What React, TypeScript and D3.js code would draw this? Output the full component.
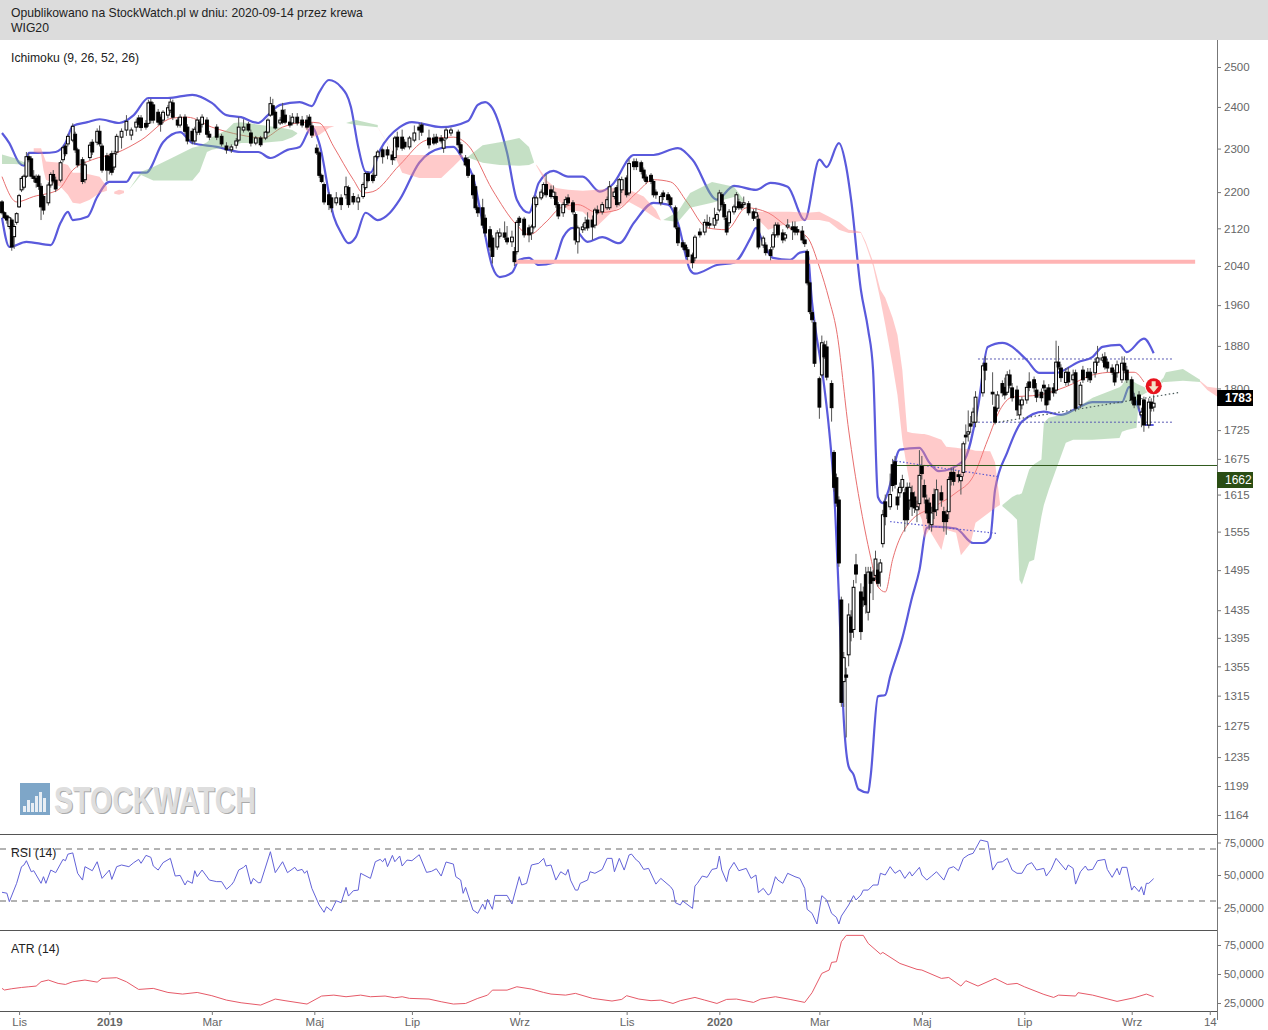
// WIG20 daily chart: candles, Bollinger-style bands, Ichimoku cloud, RSI and ATR panels
import React, { useRef, useEffect } from 'react';
import * as d3 from 'd3';

type Candle = [number, number, number, number, number]; // day, open, close, high, low
type Point = [number, number];                          // day, value
type CloudPoint = [number, number, number];             // day, top, bottom

const PUBLISHED = 'Opublikowano na StockWatch.pl w dniu: 2020-09-14 przez krewa';
const SYMBOL = 'WIG20';

const priceTicks = [2500, 2400, 2300, 2200, 2120, 2040, 1960, 1880, 1800, 1725, 1675, 1615, 1555, 1495, 1435, 1395, 1355, 1315, 1275, 1235, 1199, 1164];
const indicatorTicks = [25, 50, 75];
const monthDays = [7, 44, 86, 128, 168, 212, 256, 294, 335, 377, 419, 463, 495];
const monthLabels = ['Lis', '2019', 'Mar', 'Maj', 'Lip', 'Wrz', 'Lis', '2020', 'Mar', 'Maj', 'Lip', 'Wrz', '14'];

const candles2018: Candle[] = [
  [0,2178,2154,2182,2150],[1,2154,2143,2157,2140],[2,2147,2138,2150,2130],[3,2124,2143,2146,2118],[4,2138,2080,2142,2072],
  [5,2102,2124,2130,2076],[6,2133,2152,2155,2128],[7,2167,2192,2196,2165],[8,2205,2231,2236,2200],[9,2211,2236,2240,2206],
  [10,2236,2281,2292,2232],[11,2281,2274,2290,2268],[12,2276,2236,2282,2230],[13,2236,2231,2250,2222],[14,2231,2222,2240,2210],
  [15,2236,2213,2240,2205],[16,2213,2167,2220,2138],[17,2190,2160,2195,2150],[19,2176,2216,2222,2170],[20,2216,2240,2245,2210],
  [21,2240,2225,2250,2220],[22,2227,2207,2235,2200],[24,2227,2267,2272,2222],[25,2274,2302,2306,2268],[26,2306,2288,2312,2282],
  [27,2311,2329,2335,2305],[29,2320,2353,2360,2315],[30,2334,2297,2340,2290],[31,2297,2262,2302,2256],[33,2274,2224,2280,2218],
  [34,2228,2262,2270,2220],[36,2279,2308,2315,2272],[37,2315,2292,2322,2285],[39,2315,2341,2348,2308],[40,2341,2311,2355,2305],
  [41,2306,2250,2312,2244],[43,2283,2250,2290,2225],[44,2281,2250,2288,2240],[45,2288,2245,2295,2238],[46,2257,2288,2295,2250],
  [47,2292,2329,2335,2285],[49,2327,2341,2348,2300],[51,2344,2365,2380,2330],[53,2332,2344,2350,2320],[55,2351,2363,2370,2340],
];

const candles2019a: Candle[] = [
  [56,2373,2358,2380,2350],[57,2373,2350,2380,2342],[59,2360,2351,2368,2345],[60,2360,2410,2418,2352],[61,2412,2368,2420,2360],
  [62,2405,2368,2412,2360],[64,2387,2363,2395,2355],[65,2375,2358,2382,2340],[66,2368,2387,2392,2360],[68,2380,2398,2405,2372],
  [69,2392,2412,2420,2385],[70,2410,2375,2418,2368],[72,2368,2356,2375,2350],[73,2356,2375,2382,2350],[75,2375,2341,2382,2335],
  [76,2351,2318,2358,2310],[78,2341,2318,2348,2310],[79,2318,2346,2352,2310],[80,2339,2368,2375,2332],[81,2363,2339,2370,2332],
  [82,2358,2375,2382,2350],[84,2368,2334,2375,2326],[85,2334,2327,2342,2320],[88,2351,2327,2358,2320],[90,2329,2311,2335,2305],
  [92,2306,2297,2315,2288],[94,2297,2304,2310,2290],[96,2308,2318,2325,2300],[97,2320,2351,2375,2315],[99,2344,2351,2370,2338],
  [101,2358,2344,2364,2340],[102,2337,2313,2345,2305],[104,2313,2325,2330,2308],[106,2325,2309,2330,2304],[108,2325,2339,2342,2320],
  [109,2339,2368,2372,2335],[110,2380,2408,2425,2376],[111,2403,2382,2420,2378],[112,2387,2349,2392,2345],[114,2361,2368,2375,2356],
  [115,2392,2363,2410,2358],[116,2380,2363,2395,2358],[118,2363,2356,2380,2350],[119,2361,2375,2385,2355],[121,2375,2361,2385,2355],
  [123,2368,2356,2378,2350],[125,2368,2351,2380,2345],[126,2375,2356,2382,2350],[127,2354,2332,2362,2325],[129,2301,2290,2310,2285],
  [130,2290,2238,2295,2232],[131,2238,2224,2242,2220],[132,2217,2178,2222,2172],[134,2194,2172,2200,2160],[135,2187,2165,2195,2155],
  [137,2176,2187,2200,2170],[139,2187,2172,2195,2160],[141,2194,2212,2235,2185],[142,2210,2172,2215,2165],[144,2190,2178,2198,2172],
  [146,2178,2187,2195,2160],[148,2190,2217,2222,2185],[149,2210,2242,2246,2205],[150,2242,2226,2247,2222],[152,2238,2226,2244,2220],
  [153,2238,2281,2285,2232],[154,2281,2292,2297,2276],[156,2297,2281,2302,2265],[158,2297,2285,2305,2275],[160,2285,2274,2295,2262],
  [161,2279,2325,2330,2272],[162,2327,2304,2340,2296],[164,2327,2301,2345,2295],[165,2315,2304,2322,2298],[167,2304,2325,2330,2298],
  [169,2320,2337,2355,2315],[171,2351,2344,2360,2320],[172,2356,2339,2362,2330],[175,2325,2309,2345,2300],[177,2325,2313,2335,2308],
  [178,2327,2315,2335,2310],[180,2325,2318,2332,2312],[181,2301,2320,2325,2290],[182,2325,2344,2350,2320],[184,2337,2344,2350,2330],
  [187,2339,2309,2345,2302],[188,2309,2290,2315,2285],[190,2278,2262,2285,2258],[191,2274,2238,2280,2232],[193,2238,2194,2242,2185],
];

const candles2019b: Candle[] = [
  [194,2212,2165,2218,2160],[195,2165,2154,2170,2145],[197,2165,2127,2185,2120],[198,2142,2110,2150,2102],[200,2117,2080,2125,2072],
  [201,2099,2060,2105,2045],[203,2080,2110,2116,2074],[204,2103,2110,2120,2098],[206,2110,2101,2135,2095],[207,2099,2091,2125,2085],
  [209,2091,2101,2115,2080],[210,2070,2049,2080,2040],[211,2070,2133,2138,2064],[212,2142,2133,2147,2125],[214,2140,2106,2145,2100],
  [216,2121,2106,2128,2090],[217,2110,2123,2128,2095],[218,2123,2187,2192,2118],[219,2172,2187,2192,2166],[221,2187,2200,2206,2182],
  [222,2198,2217,2222,2190],[223,2217,2194,2240,2188],[225,2205,2190,2215,2185],[226,2190,2200,2215,2185],[227,2190,2172,2200,2165],
  [228,2172,2147,2178,2140],[230,2154,2172,2178,2145],[231,2172,2183,2190,2165],[232,2187,2176,2195,2170],[234,2176,2156,2182,2150],
  [235,2150,2095,2155,2085],[236,2091,2121,2126,2066],[238,2117,2123,2130,2110],[239,2121,2132,2145,2115],[240,2138,2121,2155,2115],
  [242,2138,2123,2148,2095],[243,2127,2160,2165,2120],[244,2160,2154,2170,2150],[246,2156,2172,2178,2150],[248,2165,2183,2190,2160],
  [249,2165,2212,2225,2160],[251,2190,2200,2210,2184],[252,2210,2172,2216,2166],[253,2176,2228,2232,2170],[254,2205,2228,2235,2198],
  [256,2232,2194,2238,2188],[257,2198,2265,2275,2192],[259,2269,2258,2277,2250],[260,2269,2258,2277,2250],[262,2267,2247,2272,2240],
  [263,2250,2232,2256,2226],[264,2234,2224,2240,2218],[266,2238,2224,2243,2218],[267,2224,2194,2230,2188],[268,2200,2194,2206,2185],
  [270,2176,2190,2195,2170],[271,2198,2190,2204,2182],[273,2194,2183,2200,2176],[274,2187,2172,2192,2165],[276,2165,2123,2170,2118],
  [277,2121,2089,2126,2082],[279,2089,2080,2095,2074],[280,2084,2074,2090,2068],[281,2074,2060,2080,2052],[283,2063,2047,2068,2035],
  [284,2057,2101,2106,2050],[286,2112,2106,2120,2100],[288,2112,2133,2140,2105],[289,2133,2127,2150,2122],[290,2130,2127,2145,2120],
  [292,2127,2142,2165,2120],[293,2138,2150,2155,2130],[294,2160,2198,2205,2155],[295,2194,2172,2200,2166],[296,2172,2145,2178,2138],
];

const candles2020a: Candle[] = [
  [297,2142,2112,2148,2105],[298,2132,2156,2162,2125],[300,2156,2167,2172,2150],[301,2167,2194,2200,2160],[302,2178,2165,2185,2160],
  [303,2172,2165,2178,2160],[304,2172,2176,2190,2165],[306,2174,2154,2180,2148],[308,2156,2142,2162,2136],[309,2145,2154,2165,2140],
  [310,2140,2080,2150,2075],[312,2084,2099,2104,2078],[313,2084,2068,2090,2062],[315,2074,2062,2080,2052],[316,2080,2106,2112,2074],
  [317,2106,2127,2133,2100],[318,2127,2106,2133,2100],[320,2110,2095,2118,2088],[321,2099,2106,2112,2092],[322,2123,2127,2140,2118],
  [324,2123,2117,2135,2095],[325,2123,2112,2135,2105],[326,2117,2112,2125,2105],[328,2114,2095,2125,2088],[329,2095,2087,2105,2080],
  [330,2070,2005,2075,2000],[331,2005,1947,2010,1942],[332,1945,1931,1950,1925],[333,1925,1847,1930,1840],[335,1818,1766,1822,1745],
  [336,1825,1886,1900,1820],[337,1882,1859,1890,1855],[338,1878,1821,1890,1815],[340,1809,1765,1815,1740],[341,1686,1627,1690,1620],
  [342,1643,1601,1650,1595],[343,1606,1506,1612,1500],[344,1450,1306,1455,1300],[345,1334,1367,1375,1300],[346,1343,1340,1353,1260],
  [347,1371,1428,1445,1355],[348,1425,1403,1435,1390],[349,1407,1469,1480,1395],[350,1503,1489,1520,1475],[352,1462,1404,1475,1392],
  [353,1454,1450,1470,1440],[354,1488,1443,1500,1430],[355,1432,1492,1500,1420],[356,1492,1475,1500,1460],[357,1483,1479,1495,1450],
  [358,1487,1512,1525,1480],[359,1495,1475,1505,1470],[360,1492,1506,1512,1470],[361,1536,1582,1590,1530],[362,1603,1579,1615,1565],
  [364,1595,1615,1650,1590],[365,1665,1630,1675,1620],[366,1670,1632,1680,1625],[367,1611,1598,1625,1590],[368,1618,1627,1635,1610],
  [369,1627,1640,1648,1620],[370,1618,1574,1625,1555],[371,1627,1574,1635,1565],[372,1606,1627,1635,1590],[373,1618,1595,1630,1580],
  [374,1611,1593,1620,1585],[375,1590,1595,1605,1570],[376,1600,1647,1690,1590],[377,1662,1650,1680,1640],[378,1630,1611,1640,1600],
];

const candles2020b: Candle[] = [
  [379,1606,1585,1615,1575],[380,1601,1569,1610,1558],[381,1566,1585,1595,1555],[382,1615,1587,1625,1575],[383,1590,1623,1640,1580],
  [385,1618,1606,1630,1595],[386,1587,1571,1595,1555],[387,1582,1571,1590,1550],[388,1587,1640,1645,1575],[389,1652,1640,1660,1630],
  [390,1652,1637,1660,1630],[392,1648,1645,1655,1635],[393,1638,1645,1650,1615],[394,1652,1701,1705,1645],[395,1716,1713,1735,1700],
  [396,1718,1722,1760,1705],[397,1736,1732,1750,1720],[398,1739,1757,1765,1735],[399,1739,1784,1795,1730],[402,1792,1842,1848,1785],
  [403,1847,1834,1860,1815],[406,1793,1790,1830,1770],[407,1766,1739,1790,1735],[408,1764,1788,1795,1758],[410,1809,1792,1815,1785],
  [411,1802,1788,1820,1780],[412,1793,1825,1832,1788],[413,1825,1806,1835,1800],[414,1801,1783,1810,1776],[416,1797,1761,1805,1750],
  [417,1752,1770,1780,1745],[418,1770,1779,1785,1762],[420,1779,1802,1810,1772],[421,1812,1802,1830,1795],[423,1816,1801,1822,1793],
  [424,1797,1784,1810,1775],[426,1793,1783,1800,1776],[427,1806,1801,1815,1795],[428,1797,1770,1802,1760],[429,1801,1779,1808,1770],
  [431,1801,1792,1810,1785],[432,1797,1849,1890,1790],[433,1849,1840,1880,1835],[434,1838,1820,1845,1812],[436,1811,1830,1838,1805],
  [437,1830,1812,1840,1805],[439,1816,1825,1835,1810],[440,1829,1764,1835,1758],[442,1770,1806,1812,1764],[443,1834,1816,1842,1810],
  [445,1830,1820,1838,1812],[446,1830,1816,1838,1810],[448,1829,1849,1855,1820],[449,1849,1857,1880,1842],[451,1853,1857,1865,1848],
  [452,1859,1840,1868,1835],[453,1849,1838,1855,1830],[455,1838,1830,1845,1825],[456,1829,1812,1835,1805],[457,1829,1844,1852,1820],
  [459,1816,1847,1860,1810],[460,1847,1834,1860,1828],[461,1834,1816,1842,1810],[463,1816,1779,1822,1772],[464,1784,1770,1792,1764],
  [466,1788,1770,1795,1762],[467,1752,1757,1765,1730],[468,1779,1734,1785,1722],[470,1734,1775,1782,1728],[471,1775,1764,1782,1758],
  [472,1766,1773,1790,1758],
];

const upperBand: Point[] = [
  [0,2337],[3,2313],[7,2267],[9,2260],[11,2290],[17,2290],[22,2292],[26,2313],[29,2354],[35,2363],[40,2370],[48,2361],[54,2380],[60,2422],[68,2422],
  [78,2430],[86,2410],[92,2380],[98,2375],[105,2361],[109,2380],[114,2405],[122,2412],[127,2402],[130,2436],[134,2467],[139,2449],[143,2400],[146,2304],
  [149,2246],[151,2244],[155,2297],[163,2351],[168,2363],[180,2351],[191,2366],[195,2405],[198,2412],[201,2397],[207,2290],[211,2183],[216,2154],[220,2221],
  [226,2248],[232,2235],[238,2235],[245,2201],[250,2216],[259,2285],[267,2285],[277,2301],[283,2274],[293,2183],[300,2214],[309,2205],[315,2221],[322,2212],
  [329,2138],[335,2274],[338,2257],[343,2313],[346,2257],[348,2183],[352,1991],[355,1911],[357,1834],[359,1611],[361,1601],[363,1618],[368,1691],[376,1694],
  [380,1669],[384,1654],[394,1671],[400,1766],[404,1878],[410,1886],[420,1853],[425,1829],[432,1829],[441,1849],[447,1859],[451,1878],[458,1882],[461,1868],[468,1894],[472,1866],
];

const lowerBand: Point[] = [
  [0,2143],[3,2080],[10,2091],[20,2084],[24,2132],[27,2156],[29,2138],[35,2145],[39,2189],[44,2223],[51,2223],[54,2244],[59,2244],[66,2315],[73,2339],
  [78,2313],[88,2304],[98,2292],[105,2292],[110,2278],[117,2297],[122,2304],[127,2351],[130,2313],[136,2145],[139,2110],[142,2088],[145,2101],[149,2154],
  [154,2138],[159,2154],[163,2183],[171,2267],[180,2301],[185,2304],[189,2274],[193,2235],[197,2132],[201,2038],[204,2017],[209,2026],[212,2053],[216,2057],
  [220,2042],[226,2047],[230,2101],[234,2121],[240,2091],[246,2101],[253,2088],[259,2132],[267,2176],[273,2172],[277,2132],[282,2032],[284,2024],[293,2042],
  [300,2047],[307,2101],[309,2121],[312,2088],[316,2057],[323,2053],[327,2068],[330,2070],[332,1965],[337,1803],[339,1725],[341,1623],[343,1455],[345,1283],
  [347,1223],[349,1213],[351,1195],[355,1191],[356,1211],[359,1314],[362,1316],[364,1341],[369,1395],[373,1454],[376,1495],[379,1561],[382,1563],[391,1560],
  [398,1537],[402,1537],[405,1545],[407,1623],[412,1686],[418,1740],[427,1758],[434,1752],[441,1765],[447,1775],[459,1775],[462,1803],[465,1773],[469,1734],[472,1734],
];

const middleLine: Point[] = [
  [0,2235],[6,2178],[13,2190],[23,2205],[29,2250],[37,2274],[47,2290],[57,2320],[70,2373],[76,2375],[86,2351],[98,2332],[107,2325],[115,2351],[125,2363],
  [130,2361],[136,2304],[144,2228],[148,2198],[152,2201],[163,2262],[174,2320],[185,2327],[191,2308],[201,2205],[211,2127],[216,2106],[223,2134],[229,2165],
  [236,2172],[244,2154],[252,2160],[260,2198],[267,2228],[274,2223],[281,2176],[289,2121],[297,2117],[305,2165],[314,2154],[322,2123],[330,2101],[335,2038],
  [339,1971],[342,1911],[347,1725],[356,1515],[359,1470],[362,1462],[365,1511],[372,1570],[382,1595],[391,1618],[398,1645],[404,1708],[409,1761],[414,1784],
  [425,1788],[436,1803],[447,1825],[455,1830],[464,1830],[468,1812],
];

const greenClouds: CloudPoint[][] = [
  [[0,2286,2264],[5,2278,2264],[10,2266,2262]],
  [[52,2205,2205],[57,2246,2239],[62,2257,2226],[70,2279,2226],[78,2302,2226],[81,2306,2246],[84,2315,2292],[86,2327,2297],[92,2344,2304],[95,2361,2308],[98,2363,2313],[106,2356,2313],[115,2349,2318],[119,2344,2327],[121,2337,2335]],
  [[141,2361,2361],[145,2368,2356],[149,2363,2354],[154,2356,2351]],
  [[191,2281,2279],[197,2308,2267],[204,2315,2262],[212,2325,2260],[216,2304,2262],[218,2269,2267]],
  [[271,2138,2138],[277,2156,2134],[282,2198,2165],[291,2223,2176],[300,2212,2189],[304,2183,2176]],
  [[410,1598,1596],[414,1611,1582],[416,1615,1574],[417,1615,1480],[418,1617,1473],[421,1657,1508],[423,1666,1511],[426,1674,1579],[427,1738,1598],[429,1747,1623],[432,1750,1657],[436,1756,1703],[439,1761,1708],[447,1783,1708],[458,1802,1711],[459,1806,1722],[461,1820,1725],[465,1809,1729],[466,1807,1785],[469,1801,1792],[473,1806,1801],[476,1820,1812],[477,1830,1812],[484,1836,1814],[491,1816,1812]],
];

const redClouds: CloudPoint[][] = [
  [[13,2301,2292],[16,2301,2288],[17,2285,2250],[18,2270,2228],[24,2267,2212],[27,2262,2194],[29,2244,2176],[32,2244,2174],[36,2240,2183],[40,2235,2198],[43,2212,2203]],
  [[46,2201,2196],[48,2205,2194],[50,2203,2198]],
  [[124,2351,2349],[127,2354,2327],[130,2354,2332],[134,2354,2349],[136,2354,2353]],
  [[154,2351,2350],[161,2285,2283],[164,2285,2244],[171,2285,2232],[180,2285,2232],[185,2285,2258],[189,2285,2281]],
  [[219,2263,2260],[222,2239,2230],[223,2228,2212],[227,2209,2187],[232,2205,2160],[238,2203,2156],[244,2205,2125],[250,2209,2156],[257,2205,2178],[263,2190,2160],[268,2160,2142],[270,2138,2137]],
  [[308,2156,2150],[314,2156,2117],[323,2156,2132],[330,2154,2138],[335,2156,2138],[339,2145,2134],[343,2134,2117],[347,2117,2110],[350,2115,2110],[352,2112,2110],[354,2091,2085],[357,2049,2040],[360,1991,1971],[362,1975,1921],[365,1935,1843],[367,1901,1788],[369,1834,1708],[371,1722,1657],[373,1720,1611],[377,1718,1574],[378,1718,1545],[380,1716,1558],[385,1708,1526],[387,1696,1558],[391,1694,1553],[393,1693,1518],[397,1691,1537],[399,1689,1569],[405,1688,1587],[407,1669,1593],[409,1601,1598]],
  [[491,1814,1812],[494,1803,1797],[498,1801,1785]],
];

const dashedLevels: [number, number, number, number][] = [
  [400, 1855, 480, 1855],
  [400, 1739, 480, 1739],
];
const dottedTrends: [number, number, number, number][] = [
  [365, 1672, 408, 1645],
  [364, 1571, 408, 1552],
];
const risingTrend: [number, number, number, number] = [407, 1738, 483, 1793];
const supportLevel: [number, number, number] = [210, 489, 2049];
const markedLevel: [number, number, number] = [365, 498, 1662];
const lastClose = 1783;
const signal: Point = [472, 1804];

const rsiSeries: Point[] = [
  [0,36.7],[2,36],[3,29.5],[6,43.6],[8,56.4],[9,57.7],[10,61],[12,52.5],[13,53.3],[16,43.6],[17,48.7],[18,43.6],[20,53.8],[22,51.8],[25,62],[26,61],[27,66],[29,67],[31,51.3],[33,46.1],
  [34,56.4],[37,53.3],[39,60.2],[41,47.4],[44,53.8],[45,46.6],[47,56.4],[49,57.7],[52,56.4],[54,59.5],[56,62],[57,59],[59,65.1],[61,63.6],[62,56.9],[64,53.8],[66,59.5],[69,62.8],[71,49.2],[73,49.7],
  [75,42.3],[76,45.6],[78,43.6],[79,53.3],[80,48.7],[82,53.8],[85,46.1],[88,44.9],[90,44.9],[92,39],[94,42.3],[95,44.9],[97,53.8],[99,55.9],[100,57.7],[102,43],[103,47.4],[105,44.1],[106,44.1],[110,67.9],
  [112,51.8],[115,60.2],[117,51.8],[120,55.9],[121,53.3],[123,54.3],[124,51.3],[125,53.3],[127,39.7],[130,26.9],[132,21.3],[133,25.6],[135,22.5],[137,30.2],[139,28.7],[141,40.5],[142,33.8],[144,37.9],[146,38.4],[147,51.3],
  [151,47.4],[153,60.2],[155,62],[156,60.2],[157,62.8],[158,56.4],[160,65.1],[161,60.2],[163,64.6],[164,56.9],[166,61.5],[168,61],[171,65.6],[174,52],[176,52.8],[178,54.8],[180,49.2],[182,60],[185,58.4],[186,48.7],
  [188,46.1],[189,35.9],[190,40.5],[193,23.1],[195,20.5],[197,27.7],[198,23.6],[199,31.3],[201,23.6],[202,34.3],[207,34.3],[209,27.7],[212,48.7],[213,42.3],[215,43.6],[217,57.7],[220,59],[222,62.8],[223,56.9],[225,57.7],
  [227,46.1],[229,52.5],[231,50],[232,54.3],[233,46.1],[235,38.4],[236,38.4],[237,43.6],[240,46.1],[241,52.5],[243,51.3],[246,54.3],[248,62.8],[250,62.8],[251,52.5],[253,62.8],[255,53.8],[257,65.4],[258,66.1],[260,61.5],
  [261,60.2],[263,54.3],[265,55.1],[268,43],[270,47.4],[274,41],[275,38.4],[276,28.7],[278,26.9],[279,30],[283,24.3],[284,41.5],[285,43.6],[287,49.2],[289,48.2],[291,54.3],[293,55.1],[294,64.6],[295,53.8],[297,44.9],
  [298,53.8],[300,59.7],[302,53.3],[305,55.1],[307,47.4],[309,50],[310,36.4],[312,39.7],[314,34.6],[315,35.9],[317,48.7],[318,46.1],[320,43.6],[322,51.3],[325,48.7],[327,47.4],[329,39.7],[330,23.6],[332,20.5],[334,12.3],
  [336,34.1],[338,30.8],[340,20.5],[342,17.4],[343,12.3],[344,18.4],[347,26.9],[349,34.1],[350,30.8],[352,34.6],[353,38.4],[355,38.4],[357,42.3],[359,42.3],[360,51.3],[362,50],[364,56.4],[366,51.3],[368,53.8],[370,47.4],
  [372,52.5],[373,49.2],[376,55.9],[377,50],[379,46.1],[381,49.2],[383,52.5],[386,46.1],[388,55.1],[390,56.4],[392,53.3],[394,62.8],[396,65.4],[398,66.7],[401,76.9],[404,75.6],[406,53.8],[408,59.7],[410,60.2],[412,62.8],
  [414,53.8],[416,51.3],[418,51.3],[420,57.7],[422,59.5],[424,53.8],[427,55.1],[428,49.2],[430,54.3],[432,62.8],[436,53.8],[437,57.7],[439,55.1],[440,43],[442,52.5],[444,56.9],[445,53.8],[447,54.3],[449,61],[452,62],
  [453,54.3],[455,48.2],[457,55.1],[458,50],[459,55.9],[461,55.9],[463,38.4],[464,41.5],[466,37.2],[467,41],[468,34.6],[469,43.6],[470,43.6],[472,47.2],
];

const atrSeries: Point[] = [
  [0,37.6],[1,36.2],[4,37.3],[8,38.4],[11,39],[14,39.6],[16,43.3],[19,44.8],[23,41.9],[26,41],[29,43.3],[34,44.8],[39,43],[41,46.2],[47,46.8],[51,43.3],[56,36.7],[62,37.6],[68,34.1],[74,32.7],
  [80,34.1],[86,31.3],[92,27.5],[98,25.2],[106,23.2],[112,28.4],[116,27],[125,24.1],[131,31],[136,31.8],[141,30.4],[147,31.8],[151,30.4],[157,31],[161,29.5],[164,30.4],[167,29],[175,28.4],[180,26.1],[185,24.1],
  [190,24.6],[195,29],[199,31.8],[201,36.1],[207,36.1],[211,39],[217,37],[222,34.1],[225,32.7],[231,31.8],[235,33.3],[242,29],[250,26.7],[254,28.1],[256,31.3],[261,28.4],[266,27],[270,27.5],[275,24.6],[278,27],
  [284,29.8],[288,27.5],[293,24.6],[297,28.1],[301,28.4],[308,25.5],[311,28.4],[317,30.4],[323,28.1],[329,25.5],[332,33.9],[336,50.5],[339,53.4],[340,60],[342,60.6],[344,77.8],[346,83.3],[353,83.3],[355,76.4],[360,67.2],
  [361,68.6],[368,59.1],[375,54],[377,53.4],[385,46.2],[388,47],[393,39.6],[395,44.2],[400,39.6],[407,46.2],[412,41],[416,41.9],[419,39],[427,32.4],[431,29.8],[433,31.8],[440,31],[441,33.9],[447,31.8],[457,26.4],
  [464,29.5],[469,32.7],[472,30.4],
];

const FONT = '"Liberation Sans", Arial, sans-serif';
const W = 1268;
const H = 1030;
const RIGHT = 1217;
const PANEL_TOP = 40;
const RSI_TOP = 834;
const ATR_TOP = 930;
const BOTTOM = 1011;

const x = d3.scaleLinear().domain([0, 498]).range([2, 1217.1]);
const y = d3.scaleLog().domain([1164, 2500]).range([815, 67]);
const rsiY = d3.scaleLinear().domain([25, 75]).range([907.5, 842.5]);
const atrY = d3.scaleLinear().domain([25, 75]).range([1003, 945]);

export default function App() {
  const svgRef = useRef<SVGSVGElement>(null);

  useEffect(() => {
    if (!svgRef.current) return;
    const svg = d3.select(svgRef.current);
    svg.selectAll('*').remove();
    svg.style('font-family', FONT);

    svg.append('rect').attr('width', W).attr('height', H).attr('fill', '#fff');
    svg.append('rect').attr('width', W).attr('height', PANEL_TOP).attr('fill', '#dcdcdc');
    svg.append('text').attr('x', 11).attr('y', 17).attr('font-size', 12.2).attr('fill', '#222').text(PUBLISHED);
    svg.append('text').attr('x', 11).attr('y', 32).attr('font-size', 12.2).attr('fill', '#222').text(SYMBOL);

    svg.append('clipPath').attr('id', 'main-clip').append('rect')
      .attr('x', 0).attr('y', PANEL_TOP).attr('width', RIGHT).attr('height', RSI_TOP - PANEL_TOP);

    // watermark
    const wm = svg.append('g');
    wm.append('rect').attr('x', 20).attr('y', 783).attr('width', 30).attr('height', 32).attr('fill', '#7ea6c8');
    [6, 12, 9, 16, 20, 14].forEach((h, i) => {
      wm.append('rect').attr('x', 23 + i * 4).attr('y', 812 - h).attr('width', 3).attr('height', h).attr('fill', '#e8eef4');
    });
    wm.append('text').attr('x', 55).attr('y', 814).attr('font-size', 37).attr('font-weight', 'bold')
      .attr('textLength', 202).attr('lengthAdjust', 'spacingAndGlyphs')
      .attr('fill', '#aaa').text('STOCKWATCH');
    wm.append('text').attr('x', 54).attr('y', 813).attr('font-size', 37).attr('font-weight', 'bold')
      .attr('textLength', 202).attr('lengthAdjust', 'spacingAndGlyphs')
      .attr('fill', '#dedede').text('STOCKWATCH');

    const main = svg.append('g').attr('clip-path', 'url(#main-clip)');

    // bands sit under the cloud, the cloud tints them
    const smooth = d3.line<Point>().x(d => x(d[0])).y(d => y(d[1])).curve(d3.curveMonotoneX);
    [upperBand, lowerBand].forEach(band => {
      main.append('path').attr('d', smooth(band)).attr('fill', 'none').attr('stroke', '#5a5adc').attr('stroke-width', 2.2);
    });
    main.append('path').attr('d', smooth(middleLine)).attr('fill', 'none').attr('stroke', '#e86f6f').attr('stroke-width', 1);

    const cloud = d3.area<CloudPoint>().x(d => x(d[0])).y0(d => y(d[2])).y1(d => y(d[1])).curve(d3.curveLinear);
    greenClouds.forEach(c => {
      main.append('path').attr('d', cloud(c)).attr('fill', '#80bc80').attr('fill-opacity', 0.46);
    });
    redClouds.forEach(c => {
      main.append('path').attr('d', cloud(c)).attr('fill', '#ff8a8a').attr('fill-opacity', 0.45);
    });

    // levels
    main.append('line')
      .attr('x1', x(supportLevel[0])).attr('x2', x(supportLevel[1]))
      .attr('y1', y(supportLevel[2])).attr('y2', y(supportLevel[2]))
      .attr('stroke', '#ffb4b4').attr('stroke-width', 4);

    dashedLevels.forEach(([d1, p1, d2, p2]) => {
      main.append('line').attr('x1', x(d1)).attr('x2', x(d2)).attr('y1', y(p1)).attr('y2', y(p2))
        .attr('stroke', '#5a5ab4').attr('stroke-width', 1).attr('stroke-dasharray', '2,2');
    });
    dottedTrends.forEach(([d1, p1, d2, p2]) => {
      main.append('line').attr('x1', x(d1)).attr('x2', x(d2)).attr('y1', y(p1)).attr('y2', y(p2))
        .attr('stroke', '#5a5ad0').attr('stroke-width', 1.2).attr('stroke-dasharray', '1.5,2');
    });
    main.append('line')
      .attr('x1', x(risingTrend[0])).attr('x2', x(risingTrend[2]))
      .attr('y1', y(risingTrend[1])).attr('y2', y(risingTrend[3]))
      .attr('stroke', '#4a5a5a').attr('stroke-width', 1.2).attr('stroke-dasharray', '1.5,2.5');

    main.append('line')
      .attr('x1', x(markedLevel[0])).attr('x2', x(markedLevel[1]))
      .attr('y1', y(markedLevel[2]) - 1).attr('y2', y(markedLevel[2]) - 1)
      .attr('stroke', '#2f5a1c').attr('stroke-width', 1);

    // candles
    const candles = [...candles2018, ...candles2019a, ...candles2019b, ...candles2020a, ...candles2020b];
    const g = main.append('g');
    candles.forEach(([d, o, c, h, l]) => {
      g.append('line').attr('x1', x(d)).attr('x2', x(d)).attr('y1', y(h)).attr('y2', y(l))
        .attr('stroke', '#555').attr('stroke-width', 1);
    });
    candles.forEach(([d, o, c]) => {
      const up = c >= o;
      g.append('rect')
        .attr('x', x(d) - 1.4).attr('width', 2.8)
        .attr('y', y(Math.max(o, c))).attr('height', Math.max(1, Math.abs(y(o) - y(c))))
        .attr('fill', up ? '#fff' : '#000').attr('stroke', '#000').attr('stroke-width', 1);
    });

    // sell signal badge
    const sx = x(signal[0]);
    const sy = y(signal[1]);
    const badge = main.append('g').attr('transform', `translate(${sx},${sy})`);
    badge.append('circle').attr('r', 9).attr('fill', '#fff').attr('fill-opacity', 0.7);
    badge.append('circle').attr('r', 8).attr('fill', '#e8141e');
    badge.append('path').attr('d', 'M-2,-5 L2,-5 L2,0 L5,0 L0,6 L-5,0 L-2,0 Z').attr('fill', '#f3e3c8');

    // rsi
    const straight = (yScale: d3.ScaleLinear<number, number>) =>
      d3.line<Point>().x(d => x(d[0])).y(d => yScale(d[1]));
    [70, 30].forEach(v => {
      svg.append('line').attr('x1', 0).attr('x2', RIGHT).attr('y1', rsiY(v)).attr('y2', rsiY(v))
        .attr('stroke', '#666').attr('stroke-width', 1).attr('stroke-dasharray', '6,5');
    });
    svg.append('path').attr('d', straight(rsiY)(rsiSeries)).attr('fill', 'none').attr('stroke', '#6262d8').attr('stroke-width', 1);
    svg.append('path').attr('d', straight(atrY)(atrSeries)).attr('fill', 'none').attr('stroke', '#e65a68').attr('stroke-width', 1);

    // frame
    [RSI_TOP, ATR_TOP, BOTTOM].forEach(ly => {
      svg.append('line').attr('x1', 0).attr('x2', RIGHT).attr('y1', ly + 0.5).attr('y2', ly + 0.5)
        .attr('stroke', '#555').attr('stroke-width', 1);
    });

    const styleAxis = (size: number) => (a: d3.Selection<SVGGElement, unknown, null, undefined>) => {
      a.select('.domain').remove();
      a.selectAll('.tick line').attr('stroke', '#777');
      a.selectAll('.tick text').attr('fill', '#666').attr('font-size', size).attr('font-family', FONT);
    };

    svg.append('line').attr('x1', RIGHT + 0.5).attr('x2', RIGHT + 0.5).attr('y1', PANEL_TOP).attr('y2', 1020)
      .attr('stroke', '#777').attr('stroke-width', 1);

    svg.append('g').attr('transform', `translate(${RIGHT},0)`)
      .call(d3.axisRight(y).tickValues(priceTicks).tickFormat(d => String(d)).tickSize(4).tickPadding(3))
      .call(styleAxis(11.5));

    const indicatorFormat = (d: d3.NumberValue) => `${d},0000`;
    svg.append('g').attr('transform', `translate(${RIGHT},0)`)
      .call(d3.axisRight(rsiY).tickValues(indicatorTicks).tickFormat(indicatorFormat).tickSize(4).tickPadding(3))
      .call(styleAxis(11));
    svg.append('g').attr('transform', `translate(${RIGHT},0)`)
      .call(d3.axisRight(atrY).tickValues(indicatorTicks).tickFormat(indicatorFormat).tickSize(4).tickPadding(3))
      .call(styleAxis(11));

    const xAxis = svg.append('g').attr('transform', `translate(0,${BOTTOM})`)
      .call(d3.axisBottom(x).tickValues(monthDays).tickFormat((_, i) => monthLabels[i]).tickSize(4).tickPadding(3))
      .call(styleAxis(11.5));
    xAxis.selectAll<SVGTextElement, number>('.tick text')
      .attr('font-weight', (_, i) => (monthLabels[i].length === 4 ? 'bold' : 'normal'));

    // last-value tags
    const tag = (value: number, top: number, fill: string, weight: string) => {
      svg.append('rect').attr('x', RIGHT).attr('y', top).attr('width', 36).attr('height', 16).attr('fill', fill);
      svg.append('text').attr('x', RIGHT + 8).attr('y', top + 12).attr('font-size', 12).attr('font-weight', weight)
        .attr('fill', '#fff').text(String(value));
    };
    tag(lastClose, 390, '#000', 'bold');
    tag(markedLevel[2], 472, '#2a4d14', 'normal');

    // panel titles
    [['Ichimoku (9, 26, 52, 26)', 62], ['RSI (14)', 857], ['ATR (14)', 953]].forEach(([label, ty]) => {
      svg.append('text').attr('x', 11).attr('y', ty as number).attr('font-size', 12.2).attr('fill', '#222').text(label as string);
    });
  }, []);

  return (
    <svg
      ref={svgRef}
      width={W}
      height={H}
      style={{ position: 'absolute', left: 0, top: 0, display: 'block' }}
    />
  );
}
